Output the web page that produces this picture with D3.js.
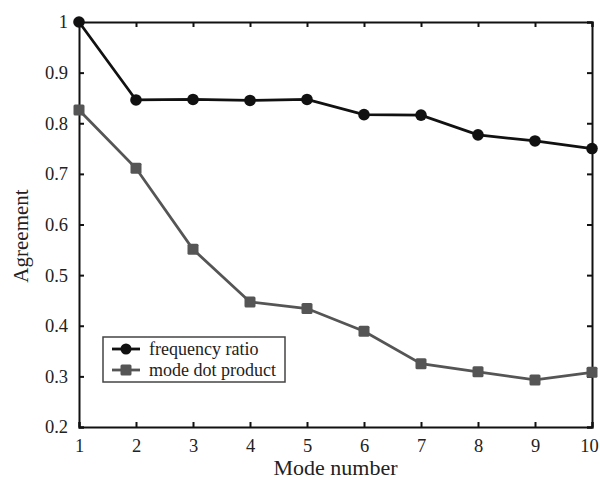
<!DOCTYPE html>
<html>
<head>
<meta charset="utf-8">
<script src="https://cdn.jsdelivr.net/npm/d3@7"></script>
<style>
  body { margin: 0; background: #fff; }
  text { font-family: "Liberation Serif", "DejaVu Serif", serif; fill: #222; }
</style>
</head>
<body>
<div id="chart"></div>
<script>
// data
var modes = [1, 2, 3, 4, 5, 6, 7, 8, 9, 10];
var freqRatio = [1.0, 0.846, 0.847, 0.845, 0.847, 0.817, 0.816, 0.777, 0.765, 0.750];
var dotProduct = [0.826, 0.711, 0.551, 0.447, 0.434, 0.389, 0.325, 0.309, 0.293, 0.308];
var yTicks = [0.2, 0.3, 0.4, 0.5, 0.6, 0.7, 0.8, 0.9, 1];
var seriesNames = ["frequency ratio", "mode dot product"];

var svgWidth = 600;
var svgHeight = 481;

var margin = { top: 22, right: 8, bottom: 54, left: 79 };
var width = 592 - margin.left;
var height = 427 - margin.top;

var svg = d3.select("#chart")
  .append("svg")
  .attr("width", svgWidth)
  .attr("height", svgHeight);

var chartGroup = svg.append("g")
  .attr("transform", `translate(${margin.left}, ${margin.top})`);

var x = d3.scaleLinear().domain([1, 10]).range([0, width]);
var y = d3.scaleLinear().domain([0.2, 1]).range([height, 0]);

// axes with inward ticks on all four sides
var bottomAxis = d3.axisBottom(x).tickValues(modes).tickSize(-5).tickPadding(12).tickFormat(d3.format("d"));
var topAxis = d3.axisTop(x).tickValues(modes).tickSize(-5).tickFormat("");
var leftAxis = d3.axisLeft(y).tickValues(yTicks).tickSize(-5).tickPadding(11).tickFormat(d => d === 1 ? "1" : d3.format(".1f")(d));
var rightAxis = d3.axisRight(y).tickValues(yTicks).tickSize(-5).tickFormat("");

var axes = [
  chartGroup.append("g").attr("transform", `translate(0, ${height})`).call(bottomAxis),
  chartGroup.append("g").call(topAxis),
  chartGroup.append("g").call(leftAxis),
  chartGroup.append("g").attr("transform", `translate(${width}, 0)`).call(rightAxis)
];
axes.forEach(function(a) {
  a.select(".domain").attr("stroke", "#111").attr("stroke-width", 2);
  a.selectAll(".tick line").attr("stroke", "#111").attr("stroke-width", 2);
  a.selectAll(".tick text")
    .style("font-family", "Liberation Serif, serif")
    .style("font-size", "18.5px")
    .attr("fill", "#222");
});

// keep the last x label inside the window
axes[0].selectAll(".tick text").filter(d => d === 10).attr("dx", -3);

var line = d3.line()
  .x((d, i) => x(modes[i]))
  .y(d => y(d));

// mode dot product (grey, squares)
chartGroup.append("path")
  .datum(dotProduct)
  .attr("fill", "none")
  .attr("stroke", "#555")
  .attr("stroke-width", 2.8)
  .attr("d", line);

chartGroup.selectAll(".sq")
  .data(dotProduct)
  .enter()
  .append("rect")
  .attr("class", "sq")
  .attr("x", (d, i) => x(modes[i]) - 5.5)
  .attr("y", d => y(d) - 5.5)
  .attr("width", 11)
  .attr("height", 11)
  .attr("rx", 1.5)
  .attr("fill", "#555");

// frequency ratio (black, circles)
chartGroup.append("path")
  .datum(freqRatio)
  .attr("fill", "none")
  .attr("stroke", "#111")
  .attr("stroke-width", 2.8)
  .attr("d", line);

chartGroup.selectAll(".dot")
  .data(freqRatio)
  .enter()
  .append("circle")
  .attr("class", "dot")
  .attr("cx", (d, i) => x(modes[i]))
  .attr("cy", d => y(d))
  .attr("r", 5.8)
  .attr("fill", "#111");

// axis labels
svg.append("text")
  .attr("x", margin.left + width / 2)
  .attr("y", 475)
  .attr("text-anchor", "middle")
  .style("font-size", "22px")
  .text("Mode number");

svg.append("text")
  .attr("transform", "translate(28, 236) rotate(-90)")
  .attr("text-anchor", "middle")
  .style("font-size", "21px")
  .text("Agreement");

// legend
var legend = svg.append("g").attr("transform", "translate(103, 337)");
legend.append("rect")
  .attr("width", 182)
  .attr("height", 45)
  .attr("fill", "#fff")
  .attr("stroke", "#444")
  .attr("stroke-width", 1.5);

seriesNames.forEach(function(name, i) {
  var ly = 12 + i * 21;
  var col = i === 0 ? "#111" : "#555";
  legend.append("line")
    .attr("x1", 9).attr("x2", 37)
    .attr("y1", ly).attr("y2", ly)
    .attr("stroke", col)
    .attr("stroke-width", 2.8);
  if (i === 0) {
    legend.append("circle").attr("cx", 23).attr("cy", ly).attr("r", 5.5).attr("fill", col);
  } else {
    legend.append("rect").attr("x", 17.5).attr("y", ly - 5.5).attr("width", 11).attr("height", 11).attr("rx", 1.5).attr("fill", col);
  }
  legend.append("text")
    .attr("x", 46)
    .attr("y", ly + 6)
    .style("font-size", "18px")
    .text(name);
});
</script>
</body>
</html>
